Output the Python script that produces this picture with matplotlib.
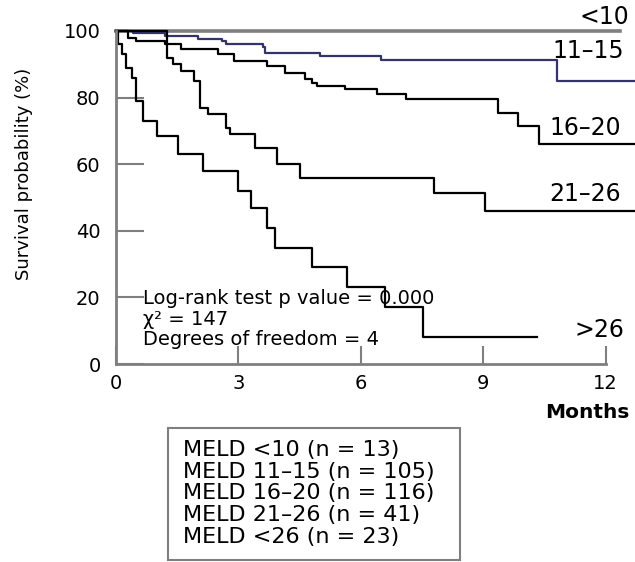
import matplotlib
matplotlib.use("Agg")
import matplotlib.pyplot as plt
from matplotlib.patches import Rectangle

# dados (meses, sobrevida %)
t_lt10 = [0, 12.35]
s_lt10 = [100, 100]

t_11_15 = [0, 0.42, 1.2, 2.0, 2.6, 2.7, 3.6, 3.65, 5.0, 6.5, 10.82, 12.72]
s_11_15 = [100, 99.3, 98.6, 97.6, 97.0, 96.0, 95.3, 93.5, 92.5, 91.3, 85.0, 85.0]

t_16_20 = [0, 0.3, 0.5, 1.2, 1.6, 2.5, 2.9, 3.7, 4.15, 4.64, 4.8, 4.93, 5.62, 6.4, 7.1, 9.37, 9.85, 10.36, 12.72]
s_16_20 = [100, 98, 97, 96, 94.6, 93, 91, 89.5, 87.4, 85.6, 84.5, 83.5, 82.6, 81, 79.6, 75.4, 71.5, 66, 66]

t_21_26 = [0, 1.25, 1.4, 1.6, 1.9, 2.07, 2.25, 2.7, 2.8, 3.4, 3.95, 4.5, 7.8, 9.05, 12.72]
s_21_26 = [100, 92, 90, 88, 85, 77, 75, 71, 69, 65, 60, 56, 51.5, 46, 46]

t_gt26 = [0, 0.05, 0.15, 0.25, 0.4, 0.5, 0.66, 1.0, 1.52, 2.14, 3.0, 3.3, 3.7, 3.9, 4.8, 5.67, 6.6, 7.53, 10.33]
s_gt26 = [100, 96, 93, 89, 86, 79, 73, 68.6, 63, 58, 52, 46.7, 40.7, 34.7, 29, 23, 17, 8, 8]

rotulos = ["<10", "11–15", "16–20", "21–26", ">26"]
legenda = ["<10", "11–15", "16–20", "21–26", "<26"]
n_pac = [13, 105, 116, 41, 23]

x_ticks = [0, 3, 6, 9, 12]
y_ticks = [0, 20, 40, 60, 80, 100]

cinza = "#7f7f7f"

fig = plt.figure(figsize=(6.35, 5.62), dpi=100)
ax = fig.add_axes([116 / 635, 1 - 364 / 562, 1 - 116 / 635, (364 - 31) / 562])

ax.step(t_lt10, s_lt10, where="post", color=cinza, lw=2.6, clip_on=False)
ax.step(t_11_15, s_11_15, where="post", color="#34346a", lw=1.6, clip_on=False)
ax.step(t_16_20, s_16_20, where="post", color="black", lw=1.6, clip_on=False)
ax.step(t_21_26, s_21_26, where="post", color="black", lw=1.6, clip_on=False)
ax.step(t_gt26, s_gt26, where="post", color="black", lw=1.6, clip_on=False)

ax.set_xlim(0, 12.72)
ax.set_ylim(0, 100)
ax.set_xticks(x_ticks)
ax.set_yticks(y_ticks)

for lado in ["top", "right"]:
    ax.spines[lado].set_visible(False)
for lado in ["left", "bottom"]:
    ax.spines[lado].set_color(cinza)
    ax.spines[lado].set_linewidth(2)
ax.spines["bottom"].set_bounds(0, 12)

ax.tick_params(axis="y", direction="in", length=20, width=1.5, color=cinza,
               labelsize=14, pad=11)
ax.tick_params(axis="x", direction="in", length=13, width=1.5, color=cinza,
               labelsize=14, pad=7)

ax.set_ylabel("Survival probability (%)", fontsize=13)
ax.yaxis.set_label_coords(-0.16, 0.57)

# rotulos das curvas, saindo pela borda direita
pos_rot = [(11.35, 104.2), (10.69, 94), (10.62, 71), (10.62, 51.2), (11.23, 10.2)]
for txt, (x, y) in zip(rotulos, pos_rot):
    ax.text(x, y, txt, fontsize=17, ha="left", va="center", clip_on=False)

ax.text(0.66, 13.5, "Log-rank test p value = 0.000\nχ² = 147\nDegrees of freedom = 4",
        fontsize=14, ha="left", va="center", linespacing=1.13)

fig.text(545 / 635, 1 - 412 / 562, "Months", fontsize=14.5, fontweight="bold",
         ha="left", va="center")

# caixa da legenda
fig.patches.append(Rectangle((168 / 635, 1 - 560 / 562), 292 / 635, 132 / 562,
                             transform=fig.transFigure, fill=False,
                             edgecolor=cinza, lw=1.5))
for i, (g, n) in enumerate(zip(legenda, n_pac)):
    fig.text(183 / 635, 1 - (450 + 21.75 * i) / 562, f"MELD {g} (n = {n})",
             fontsize=16, ha="left", va="center")

fig.savefig("out.png", dpi=100)
